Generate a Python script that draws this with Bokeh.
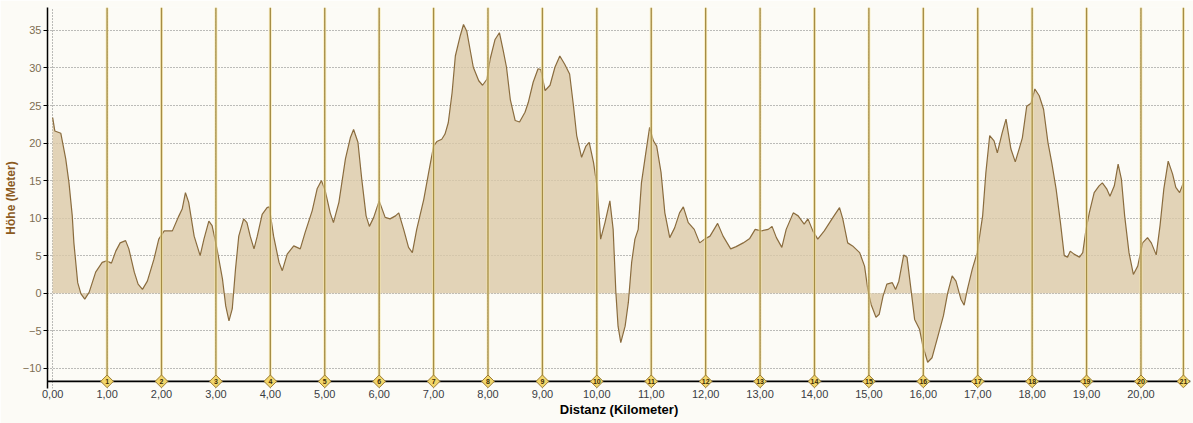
from bokeh.plotting import figure
from bokeh.models import Span, FixedTicker, Range1d
from bokeh.embed import file_html
from bokeh.resources import INLINE
from bokeh.core.properties import value
import math

# ---- data (distance in km, elevation in m) ----
dist = [0.00, 0.04, 0.15, 0.24, 0.30, 0.36, 0.39, 0.46, 0.52, 0.59, 0.67, 0.79, 0.91, 0.99,
        1.08, 1.16, 1.24, 1.34, 1.40, 1.50, 1.57, 1.65, 1.74, 1.86, 1.95, 2.05, 2.20, 2.32,
        2.38, 2.44, 2.50, 2.60, 2.71, 2.78, 2.87, 2.93, 3.02, 3.12, 3.18, 3.24, 3.30, 3.36,
        3.42, 3.51, 3.57, 3.63, 3.70, 3.76, 3.85, 3.94, 3.98, 4.06, 4.16, 4.22, 4.31, 4.43,
        4.55, 4.64, 4.77, 4.86, 4.94, 5.01, 5.10, 5.16, 5.26, 5.38, 5.47, 5.53, 5.61, 5.68,
        5.76, 5.82, 5.90, 6.00, 6.11, 6.20, 6.30, 6.36, 6.45, 6.54, 6.61, 6.69, 6.82, 6.91,
        7.00, 7.06, 7.15, 7.21, 7.27, 7.34, 7.40, 7.49, 7.55, 7.61, 7.67, 7.73, 7.83, 7.90,
        7.98, 8.04, 8.13, 8.21, 8.28, 8.34, 8.41, 8.50, 8.58, 8.68, 8.74, 8.83, 8.92, 8.97,
        9.05, 9.14, 9.23, 9.32, 9.41, 9.50, 9.57, 9.63, 9.72, 9.80, 9.86, 9.94, 10.01, 10.07,
        10.15, 10.24, 10.30, 10.35, 10.39, 10.44, 10.52, 10.58, 10.64, 10.70, 10.76, 10.82,
        10.90, 10.97, 11.04, 11.10, 11.18, 11.25, 11.34, 11.43, 11.52, 11.59, 11.68, 11.79,
        11.89, 11.98, 12.08, 12.22, 12.32, 12.46, 12.56, 12.69, 12.81, 12.91, 13.02, 13.15,
        13.22, 13.30, 13.40, 13.48, 13.61, 13.70, 13.81, 13.88, 13.97, 14.06, 14.18, 14.34,
        14.46, 14.52, 14.61, 14.70, 14.83, 14.92, 14.98, 15.04, 15.13, 15.19, 15.26, 15.33,
        15.43, 15.49, 15.55, 15.64, 15.70, 15.78, 15.84, 15.93, 15.99, 16.08, 16.16, 16.27,
        16.37, 16.45, 16.53, 16.60, 16.69, 16.75, 16.81, 16.90, 16.99, 17.09, 17.15, 17.22,
        17.30, 17.36, 17.45, 17.52, 17.61, 17.69, 17.76, 17.82, 17.90, 17.98, 18.05, 18.13,
        18.21, 18.29, 18.36, 18.44, 18.52, 18.59, 18.65, 18.70, 18.77, 18.87, 18.93, 18.99,
        19.05, 19.14, 19.23, 19.29, 19.37, 19.43, 19.51, 19.58, 19.64, 19.70, 19.78, 19.86,
        19.94, 20.03, 20.12, 20.19, 20.28, 20.35, 20.42, 20.50, 20.58, 20.64, 20.71, 20.78]

elev = [23.4, 21.6, 21.3, 17.9, 14.7, 10.3, 6.7, 1.4, -0.1, -0.8, 0.1, 2.8, 4.1, 4.3,
        4.0, 5.6, 6.7, 7.0, 5.9, 2.8, 1.2, 0.5, 1.6, 4.5, 7.2, 8.3, 8.3, 10.3,
        11.2, 13.4, 12.1, 7.6, 5.0, 7.2, 9.6, 9.0, 5.9, 1.9, -1.7, -3.7, -2.1, 3.2,
        7.6, 9.9, 9.4, 7.6, 5.9, 7.6, 10.5, 11.4, 11.5, 7.6, 4.1, 3.0, 5.2, 6.3,
        5.9, 8.1, 11.0, 13.9, 15.0, 13.6, 10.7, 9.4, 12.1, 17.9, 20.7, 21.8, 20.1, 15.2,
        10.3, 8.9, 10.1, 12.3, 10.1, 9.9, 10.3, 10.7, 8.5, 6.1, 5.4, 8.5, 12.5, 16.1,
        19.6, 20.2, 20.5, 21.2, 22.7, 26.7, 31.6, 34.3, 35.8, 34.9, 32.5, 30.1, 28.3, 27.7,
        28.5, 31.2, 33.8, 34.7, 32.3, 30.1, 25.8, 23.0, 22.8, 24.1, 25.4, 28.1, 29.9, 29.8,
        27.0, 27.7, 30.1, 31.6, 30.5, 29.2, 25.0, 21.0, 18.1, 19.6, 20.1, 17.4, 13.9, 7.2,
        9.4, 12.3, 8.5, 0.1, -4.4, -6.6, -4.4, -1.2, 4.1, 7.2, 8.5, 14.7,
        18.7, 22.1, 20.3, 19.6, 16.1, 10.7, 7.4, 8.7, 10.7, 11.5, 9.4, 8.5,
        6.7, 7.2, 7.6, 9.3, 7.6, 5.9, 6.2, 6.7, 7.3, 8.5, 8.3, 8.5,
        8.9, 7.4, 6.1, 8.5, 10.7, 10.3, 9.2, 9.9, 8.3, 7.2, 8.3, 10.1,
        11.4, 9.9, 6.7, 6.3, 5.4, 3.6, 0.5, -1.5, -3.2, -2.8, -0.4, 1.2,
        1.4, 0.5, 1.6, 5.1, 4.8, 0.1, -3.5, -4.8, -7.0, -9.2, -8.6, -5.7,
        -3.0, 0.1, 2.3, 1.6, -0.8, -1.6, 0.5, 3.2, 5.4, 10.3, 16.1, 21.0,
        20.3, 18.7, 21.4, 23.2, 19.2, 17.5, 19.2, 20.7, 24.9, 25.3, 27.2, 26.3,
        24.5, 20.1, 17.4, 13.9, 9.4, 5.0, 4.8, 5.6, 5.2, 4.8, 5.4, 8.5,
        10.7, 13.4, 14.3, 14.7, 13.9, 12.9, 14.3, 17.2, 15.2, 10.3, 5.4, 2.5,
        3.6, 6.7, 7.4, 6.7, 5.1, 9.0, 13.9, 17.6, 15.9, 14.1, 13.4, 14.7]

km_pos = [1, 2, 3, 4, 5, 6, 7, 8, 9, 10, 11, 12, 13, 14, 15, 16, 17, 18, 19, 20, 20.78]
km_labels = [str(i) for i in range(1, 22)]

x_ticks = list(range(0, 21))
x_tick_labels = {i: f"{i},00" for i in x_ticks}
y_ticks = [-10, -5, 0, 5, 10, 15, 20, 25, 30, 35]

X_START, X_END = -0.095, 20.91
Y_START, Y_END = -12.7, 38.06
AXIS_Y = -11.75

BG = "#FCFBF6"
FONT = "Liberation Sans"

p = figure(width=1193, height=423, output_backend="svg", toolbar_location=None,
           x_range=Range1d(X_START, X_END), y_range=Range1d(Y_START, Y_END),
           min_border_left=45, min_border_right=3, min_border_top=7, min_border_bottom=35,
           background_fill_color=BG, border_fill_color=BG, outline_line_color=None)

# grid
p.xgrid.ticker = FixedTicker(ticks=x_ticks)
p.ygrid.ticker = FixedTicker(ticks=y_ticks)
for g in (p.xgrid, p.ygrid):
    g.grid_line_color = "#7a7a7a"
    g.grid_line_dash = "1 2"
    g.grid_line_width = 1

# x-axis baseline (diamonds sit on it)
p.add_layout(Span(location=AXIS_Y, dimension="width", line_color="black",
                  line_width=1.6, level="underlay"))

# elevation area + outline
p.varea(x=dist, y1=[0] * len(dist), y2=elev, fill_color="#DBC9A8", fill_alpha=0.8)
p.line(x=dist, y=elev, line_color="#8A6C3E", line_width=1.2)

# kilometre marker lines
p.segment(x0=km_pos, y0=[AXIS_Y] * len(km_pos), x1=km_pos, y1=[Y_END] * len(km_pos),
          line_color="#F8E8A8", line_width=3, line_alpha=0.7)
p.segment(x0=km_pos, y0=[AXIS_Y] * len(km_pos), x1=km_pos, y1=[Y_END] * len(km_pos),
          line_color="#A48B45", line_width=1.3)

# kilometre diamonds
p.scatter(x=km_pos, y=[AXIS_Y] * len(km_pos), marker="square", angle=math.pi / 4,
          size=9, fill_color="#F2D66A", line_color="#9A7B35", line_width=1)
p.text(x=km_pos, y=[AXIS_Y] * len(km_pos), text=km_labels, text_font=value(FONT),
       text_font_size="7px", text_font_style="bold", text_color="#3b2c05",
       text_align="center", text_baseline="middle")

# axes
xa = p.xaxis[0]
xa.ticker = FixedTicker(ticks=x_ticks)
xa.major_label_overrides = x_tick_labels
xa.axis_line_color = None
xa.major_tick_line_color = None
xa.minor_tick_line_color = None
xa.major_tick_out = 0
xa.major_tick_in = 0
xa.major_label_standoff = 1
xa.major_label_text_font = FONT
xa.major_label_text_font_size = "11px"
xa.major_label_text_color = "#3a3d44"
xa.axis_label = "Distanz (Kilometer)"
xa.axis_label_text_font = FONT
xa.axis_label_text_font_size = "13px"
xa.axis_label_text_font_style = "bold"
xa.axis_label_text_color = "black"
xa.axis_label_standoff = 1

ya = p.yaxis[0]
ya.ticker = FixedTicker(ticks=y_ticks)
ya.axis_line_color = "black"
ya.axis_line_width = 1.5
ya.major_tick_in = 0
ya.major_tick_out = 4
ya.major_tick_line_color = "black"
ya.minor_tick_line_color = None
ya.major_label_standoff = 2
ya.major_label_text_font = FONT
ya.major_label_text_font_size = "11px"
ya.major_label_text_color = "#7d6d52"
ya.axis_label = "Höhe (Meter)"
ya.axis_label_text_font = FONT
ya.axis_label_text_font_size = "12px"
ya.axis_label_text_font_style = "bold"
ya.axis_label_text_color = "#8B5A1E"
ya.axis_label_standoff = 2

open("out.html", "w").write(file_html(p, INLINE))
